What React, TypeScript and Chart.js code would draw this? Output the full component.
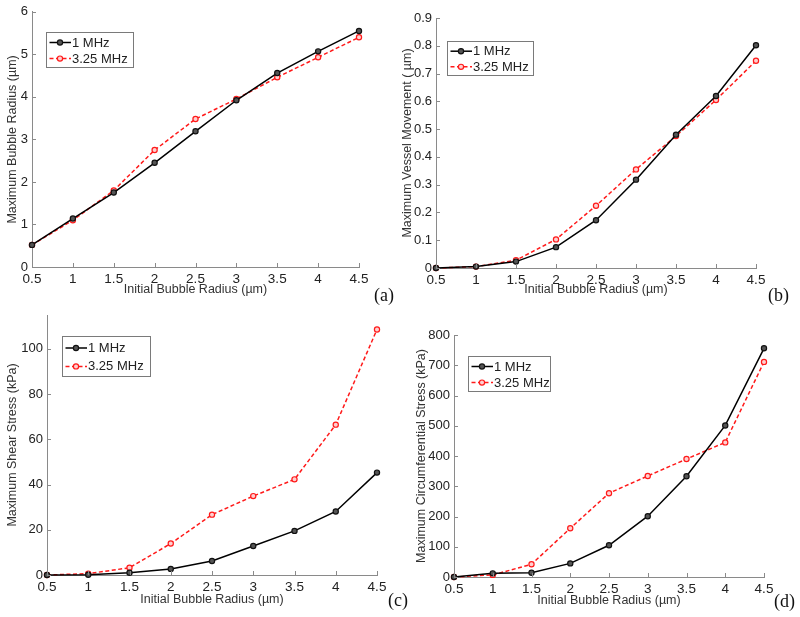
import React, { useEffect, useRef } from "react";
import { Chart, registerables } from "chart.js";
Chart.register(...registerables);

const radii = [0.5, 1, 1.5, 2, 2.5, 3, 3.5, 4, 4.5];
const xTickValues = [0.5, 1, 1.5, 2, 2.5, 3, 3.5, 4, 4.5];
const seriesNames = ["1 MHz", "3.25 MHz"];

const bubble1MHz = [0.52, 1.14, 1.75, 2.45, 3.19, 3.92, 4.56, 5.07, 5.55];
const bubble325MHz = [0.52, 1.1, 1.8, 2.75, 3.48, 3.95, 4.46, 4.93, 5.4];
const vessel1MHz = [0, 0.005, 0.023, 0.075, 0.172, 0.318, 0.48, 0.619, 0.802];
const vessel325MHz = [0, 0.005, 0.028, 0.103, 0.224, 0.355, 0.475, 0.605, 0.746];
const shear1MHz = [0, 0.1, 1.0, 2.7, 6.2, 12.8, 19.5, 28.1, 45.3];
const shear325MHz = [0, 0.6, 3.2, 13.9, 26.7, 34.9, 42.3, 66.5, 108.6];
const circ1MHz = [0, 12, 14, 45, 105, 201, 333, 501, 756];
const circ325MHz = [0, 7, 42, 161, 277, 334, 390, 445, 711];

const yTicksA = [0, 1, 2, 3, 4, 5, 6];
const yTicksB = [0, 0.1, 0.2, 0.3, 0.4, 0.5, 0.6, 0.7, 0.8, 0.9];
const yTicksC = [0, 20, 40, 60, 80, 100];
const yTicksD = [0, 100, 200, 300, 400, 500, 600, 700, 800];

const xTitle = "Initial Bubble Radius (\u00b5m)";
const yTitles = [
  "Maximum Bubble Radius (\u00b5m)",
  "Maximum Vessel Movement ( \u00b5m)",
  "Maximum Shear Stress (kPa)",
  "Maximum Circumferential Stress (kPa)",
];
const panelLetters = ["(a)", "(b)", "(c)", "(d)"];

const FONT = "'Liberation Sans', Arial, sans-serif";
const AXIS_GREY = "#8a8a8a";
const TEXT = "#222";

const inwardTicks = {
  id: "inwardTicks",
  afterDraw(chart: any) {
    const ctx = chart.ctx;
    const { left, bottom } = chart.chartArea;
    ctx.save();
    ctx.strokeStyle = AXIS_GREY;
    ctx.lineWidth = 1;
    const xs = chart.scales.x;
    xs.ticks.forEach((t: any) => {
      const px = Math.round(xs.getPixelForValue(t.value)) + 0.5;
      ctx.beginPath();
      ctx.moveTo(px, bottom);
      ctx.lineTo(px, bottom - 4);
      ctx.stroke();
    });
    const ys = chart.scales.y;
    ys.ticks.forEach((t: any) => {
      const py = Math.round(ys.getPixelForValue(t.value)) + 0.5;
      ctx.beginPath();
      ctx.moveTo(left, py);
      ctx.lineTo(left + 4, py);
      ctx.stroke();
    });
    ctx.restore();
  },
};

const boxLegend = {
  id: "boxLegend",
  afterDraw(chart: any, _args: any, opts: any) {
    if (!opts || opts.x === undefined) return;
    const ctx = chart.ctx;
    const { x, y, w, h } = opts;
    ctx.save();
    ctx.fillStyle = "#fff";
    ctx.fillRect(x, y, w, h);
    ctx.strokeStyle = "#7a7a7a";
    ctx.lineWidth = 1;
    ctx.strokeRect(Math.round(x) + 0.5, Math.round(y) + 0.5, Math.round(w), Math.round(h));
    chart.data.datasets.forEach((ds: any, i: number) => {
      const ey = y + h * (0.3 + 0.46 * i);
      ctx.save();
      ctx.strokeStyle = ds.borderColor;
      ctx.lineWidth = ds.borderWidth;
      ctx.setLineDash(ds.borderDash || []);
      ctx.beginPath();
      ctx.moveTo(x + 3.5, ey);
      ctx.lineTo(x + 25, ey);
      ctx.stroke();
      ctx.setLineDash([]);
      ctx.beginPath();
      ctx.arc(x + 14, ey, ds.pointRadius, 0, Math.PI * 2);
      ctx.fillStyle = ds.pointBackgroundColor;
      ctx.fill();
      ctx.lineWidth = ds.pointBorderWidth;
      ctx.strokeStyle = ds.pointBorderColor;
      ctx.stroke();
      ctx.restore();
      ctx.fillStyle = TEXT;
      ctx.font = `13px ${FONT}`;
      ctx.textBaseline = "middle";
      ctx.textAlign = "left";
      ctx.fillText(ds.label, x + 26, ey + 0.5);
    });
    ctx.restore();
  },
};

type Panel = {
  left: number; top: number; w: number; h: number;
  yW: number; xH: number; padTop: number; padRight: number; yTitlePad: number;
  yMax: number; yTicks: number[]; s1: number[]; s2: number[];
  legend: { x: number; y: number; w: number; h: number };
  letter: { left: number; top: number };
};

const panels: Panel[] = [
  { left: 0, top: 0, w: 400, h: 300, yW: 32, xH: 33, padTop: 10, padRight: 41, yTitlePad: 5.5,
    yMax: 6, yTicks: yTicksA, s1: bubble1MHz, s2: bubble325MHz,
    legend: { x: 46, y: 32, w: 87, h: 35 }, letter: { left: 374, top: 285 } },
  { left: 400, top: 0, w: 400, h: 300, yW: 36, xH: 32, padTop: 18, padRight: 44, yTitlePad: 0.5,
    yMax: 0.9, yTicks: yTicksB, s1: vessel1MHz, s2: vessel325MHz,
    legend: { x: 47, y: 41, w: 86, h: 34 }, letter: { left: 768, top: 285 } },
  { left: 0, top: 300, w: 400, h: 310, yW: 47, xH: 35, padTop: 15, padRight: 23, yTitlePad: 5,
    yMax: 115, yTicks: yTicksC, s1: shear1MHz, s2: shear325MHz,
    legend: { x: 62, y: 36, w: 88, h: 40 }, letter: { left: 388, top: 590 } },
  { left: 400, top: 300, w: 400, h: 311, yW: 54, xH: 34, padTop: 35, padRight: 36, yTitlePad: 14.5,
    yMax: 800, yTicks: yTicksD, s1: circ1MHz, s2: circ325MHz,
    legend: { x: 68, y: 56, w: 82, h: 35 }, letter: { left: 774, top: 591 } },
];

function fmt(v: number) {
  return String(Math.round(v * 1000) / 1000);
}

function PanelChart({ p, idx }: { p: Panel; idx: number }) {
  const ref = useRef<HTMLCanvasElement | null>(null);
  useEffect(() => {
    if (!ref.current) return;
    const chart = new Chart(ref.current, {
      type: "line",
      data: {
        datasets: [
          {
            label: seriesNames[0],
            data: radii.map((r, i) => ({ x: r, y: p.s1[i] })),
            borderColor: "#000",
            borderWidth: 1.5,
            pointRadius: 2.6,
            pointBorderWidth: 1.2,
            pointBorderColor: "#111",
            pointBackgroundColor: "#555",
            clip: false,
          } as any,
          {
            label: seriesNames[1],
            data: radii.map((r, i) => ({ x: r, y: p.s2[i] })),
            borderColor: "#ff1a1a",
            borderWidth: 1.5,
            borderDash: [4, 2.5],
            pointRadius: 2.6,
            pointBorderWidth: 1.2,
            pointBorderColor: "#ff1a1a",
            pointBackgroundColor: "#ffd0d0",
            clip: false,
          } as any,
        ],
      },
      options: {
        responsive: false,
        animation: false,
        layout: { padding: { left: 0, top: p.padTop, right: p.padRight, bottom: 0 } },
        plugins: {
          legend: { display: false },
          tooltip: { enabled: false },
          boxLegend: p.legend,
        } as any,
        scales: {
          x: {
            type: "linear",
            min: 0.5,
            max: 4.5,
            afterBuildTicks: (s: any) => {
              s.ticks = xTickValues.map((v) => ({ value: v }));
            },
            afterFit: (s: any) => {
              s.height = p.xH;
            },
            grid: { display: false, drawTicks: false },
            border: { display: true, color: AXIS_GREY, width: 1 },
            ticks: {
              color: TEXT,
              font: { family: FONT, size: 13.5 },
              padding: 4,
              maxRotation: 0,
              autoSkip: false,
              callback: (v: any) => fmt(Number(v)),
            },
            title: {
              display: true,
              text: xTitle,
              color: "#333",
              font: { family: FONT, size: 12.5 },
              padding: { top: 0, bottom: 2.5 },
            },
          },
          y: {
            type: "linear",
            min: 0,
            max: p.yMax,
            afterBuildTicks: (s: any) => {
              s.ticks = p.yTicks.map((v) => ({ value: v }));
            },
            afterFit: (s: any) => {
              s.width = p.yW;
            },
            grid: { display: false, drawTicks: false },
            border: { display: true, color: AXIS_GREY, width: 1 },
            ticks: {
              color: TEXT,
              font: { family: FONT, size: 13 },
              padding: 4,
              autoSkip: false,
              callback: (v: any) => fmt(Number(v)),
            },
            title: {
              display: true,
              text: yTitles[idx],
              color: "#333",
              font: { family: FONT, size: 12.5 },
              padding: { top: p.yTitlePad, bottom: 0 },
            },
          },
        },
      } as any,
      plugins: [inwardTicks, boxLegend],
    });
    return () => chart.destroy();
  }, [p, idx]);
  return (
    <div style={{ position: "absolute", left: p.left, top: p.top, width: p.w, height: p.h }}>
      <canvas ref={ref} width={p.w} height={p.h} style={{ display: "block" }} />
    </div>
  );
}

export default function App() {
  return (
    <div style={{ position: "absolute", left: 0, top: 0, width: 800, height: 617, background: "#fff", overflow: "hidden" }}>
      {panels.map((p, i) => (
        <PanelChart key={i} p={p} idx={i} />
      ))}
      {panels.map((p, i) => (
        <span
          key={"l" + i}
          style={{
            position: "absolute",
            left: p.letter.left,
            top: p.letter.top,
            fontFamily: "'Liberation Serif', 'Times New Roman', serif",
            fontSize: 18,
            lineHeight: "20px",
            color: "#111",
          }}
        >
          {panelLetters[i]}
        </span>
      ))}
    </div>
  );
}
